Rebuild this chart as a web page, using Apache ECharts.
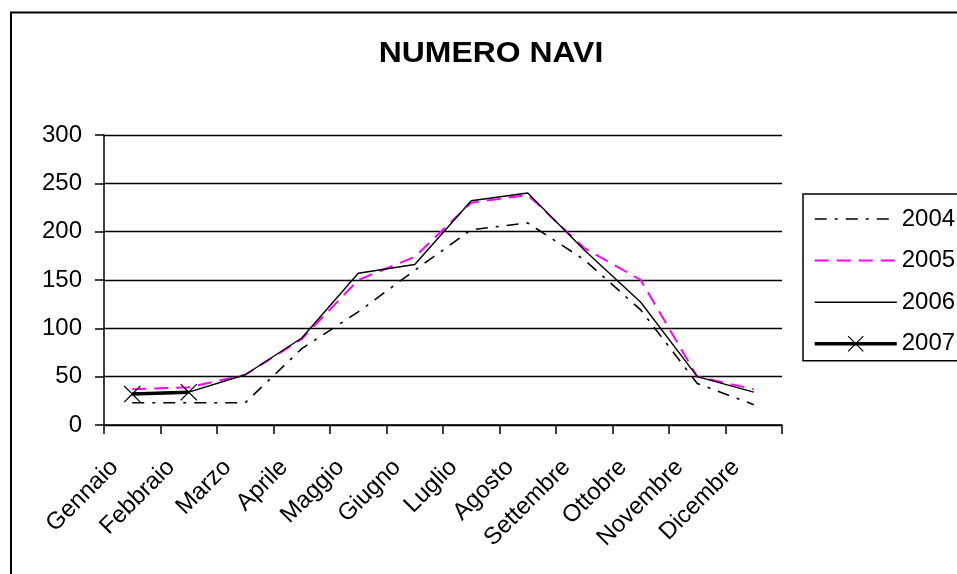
<!DOCTYPE html>
<html>
<head>
<meta charset="utf-8">
<script src="https://cdn.jsdelivr.net/npm/echarts@6/dist/echarts.min.js"></script>
<style>
html,body{margin:0;padding:0;background:#fff;}
#chart{width:957px;height:574px;}
</style>
</head>
<body>
<div id="chart"></div>
<script>
const titleText = 'NUMERO NAVI';
const months = ['Gennaio','Febbraio','Marzo','Aprile','Maggio','Giugno','Luglio','Agosto','Settembre','Ottobre','Novembre','Dicembre'];
const seriesNames = ['2004','2005','2006','2007'];
const v2004 = [23, 23, 23, 79, 117, 160, 202, 209, 171, 119, 43, 21];
const v2005 = [37, 39, 52, 89, 150, 174, 230, 238, 183, 150, 50, 37];
const v2006 = [33, 34, 52, 90, 157, 166, 232, 240, 181, 127, 50, 34];
const v2007 = [32, 34];
const yTicks = [0, 50, 100, 150, 200, 250, 300];

const FONT = 'Liberation Sans, Arial, sans-serif';
const chart = echarts.init(document.getElementById('chart'), null, {renderer:'canvas'});
const xSym = 'path://M0,5L5,0L50,45L95,0L100,5L55,50L100,95L95,100L50,55L5,100L0,95L45,50Z';
const hideSym = {opacity: 0, color: 'rgba(0,0,0,0)', borderWidth: 0};

chart.setOption({
  animation: false,
  backgroundColor: '#fff',
  graphic: [
    {type:'rect', shape:{x:11, y:12.5, width:1200, height:900}, style:{fill:'none', stroke:'#000', lineWidth:2}, silent:true, z:-1},
    {type:'text', x:491, y:54, scaleX:1.1, scaleY:1,
     style:{text:titleText, align:'center', verticalAlign:'middle', font:'bold 29px ' + FONT, fill:'#000'}}
  ],
  legend: {
    orient: 'vertical',
    left: 803,
    top: 194,
    padding: [13, 10, 5, 10],
    borderColor: '#000',
    borderWidth: 1.5,
    itemWidth: 82,
    itemHeight: 20,
    itemGap: 17.6,
    data: [
      {name: seriesNames[0], itemStyle: hideSym, lineStyle: {width: 1.6}},
      {name: seriesNames[1], itemStyle: hideSym, lineStyle: {width: 2}},
      {name: seriesNames[2], itemStyle: hideSym, lineStyle: {width: 1.4}},
      {name: seriesNames[3], lineStyle: {width: 3.5}}
    ],
    textStyle: {fontFamily: FONT, fontSize: 24, color: '#000', lineHeight: 24}
  },
  grid: {left: 104, right: 175, top: 135, bottom: 149, containLabel: false},
  xAxis: {
    type: 'category',
    data: months,
    boundaryGap: true,
    axisLine: {lineStyle: {color: '#000', width: 1.5}},
    axisTick: {show: true, length: 9, interval: 0, lineStyle: {color: '#000', width: 1.5}},
    axisLabel: {
      interval: 0, rotate: 45, margin: 21, color: '#000',
      fontFamily: FONT, fontSize: 24, padding: [0, 25, 0, 0]
    }
  },
  yAxis: {
    type: 'value',
    min: yTicks[0], max: yTicks[yTicks.length-1], interval: 50,
    axisLine: {show: true, lineStyle: {color: '#000', width: 1.5}},
    axisTick: {show: true, length: 9, lineStyle: {color: '#000', width: 1.5}},
    axisLabel: {margin: 22, color: '#000', fontFamily: FONT, fontSize: 24},
    splitLine: {show: true, lineStyle: {color: '#000', width: 1.3}}
  },
  series: [
    {name: seriesNames[0], type: 'line', data: v2004, symbol: 'none', color:'#000',
     lineStyle: {color: '#000', width: 1.6, type: [12, 8, 3, 8]}},
    {name: seriesNames[1], type: 'line', data: v2005, symbol: 'none', color:'#ff00ff',
     lineStyle: {color: '#ff00ff', width: 2, type: [14, 8]}},
    {name: seriesNames[2], type: 'line', data: v2006, symbol: 'none', color:'#000',
     lineStyle: {color: '#000', width: 1.4, type: 'solid'}},
    {name: seriesNames[3], type: 'line', data: v2007, symbol: xSym, symbolSize: 17, showSymbol: true,
     color:'#000', itemStyle: {color: '#000'},
     lineStyle: {color: '#000', width: 3.5, type: 'solid'}}
  ]
});
</script>
</body>
</html>
